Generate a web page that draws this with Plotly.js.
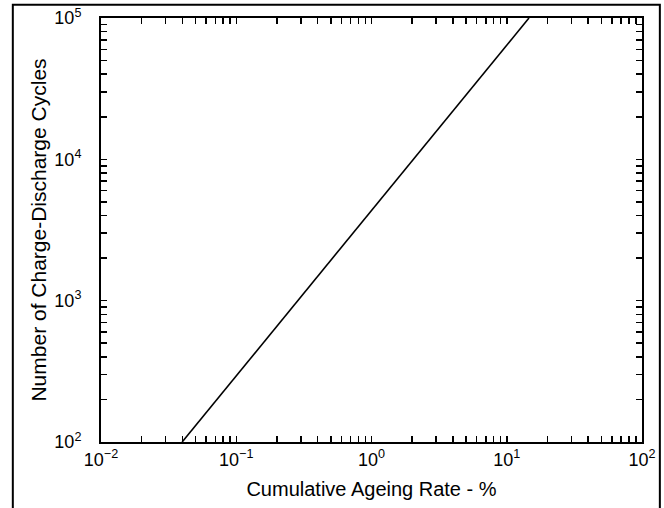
<!DOCTYPE html>
<html>
<head>
<meta charset="utf-8">
<script src="https://cdn.plot.ly/plotly-3.0.1.min.js"></script>
<style>html,body{margin:0;padding:0;background:#fff;}#chart{width:664px;height:508px;}</style>
</head>
<body>
<div id="chart"></div>
<script>
// Data
const ageingRate = [0.0398, 14.6];      // Cumulative Ageing Rate - %
const cycles = [100, 100000];           // Number of Charge-Discharge Cycles
const xDecades = [-2, -1, 0, 1, 2];
const yDecades = [2, 3, 4, 5];
const xTitle = 'Cumulative Ageing Rate - %';
const yTitle = 'Number of Charge-Discharge Cycles';

function buildTicks(decades) {
  const vals = [], text = [];
  for (let i = 0; i < decades.length; i++) {
    const d = decades[i];
    vals.push(Math.pow(10, d));
    text.push('10<sup>' + (d < 0 ? '\u2212' + (-d) : d) + '</sup>');
    if (i < decades.length - 1) {
      for (let m = 2; m <= 9; m++) { vals.push(m * Math.pow(10, d)); text.push(''); }
    }
  }
  return {vals, text};
}
const xt = buildTicks(xDecades);
const yt = buildTicks(yDecades);

const font = {family: 'Liberation Sans, Arial, sans-serif', color: '#000'};

Plotly.newPlot('chart', [{
  x: ageingRate, y: cycles, type: 'scatter', mode: 'lines',
  line: {color: '#000', width: 1.6}, hoverinfo: 'skip'
}], {
  width: 664, height: 508,
  margin: {l: 101, r: 22, t: 18, b: 66},
  paper_bgcolor: '#fff', plot_bgcolor: '#fff',
  showlegend: false,
  font: font,
  xaxis: {
    type: 'log', range: [-2, 2],
    tickvals: xt.vals, ticktext: xt.text,
    ticks: 'inside', ticklen: 6, tickwidth: 1.5, tickcolor: '#000',
    showgrid: false, zeroline: false,
    showline: true, linecolor: '#000', linewidth: 2, mirror: 'ticks',
    tickfont: {family: font.family, size: 18, color: '#000'},
    title: {text: xTitle, font: {family: font.family, size: 20, color: '#000'}, standoff: 13}
  },
  yaxis: {
    type: 'log', range: [2, 5],
    tickvals: yt.vals, ticktext: yt.text,
    ticks: 'inside', ticklen: 6, tickwidth: 1.5, tickcolor: '#000',
    showgrid: false, zeroline: false,
    showline: true, linecolor: '#000', linewidth: 2, mirror: 'ticks',
    tickfont: {family: font.family, size: 18, color: '#000'},
    ticklabelstandoff: 14,
    title: {text: yTitle, font: {family: font.family, size: 21, color: '#000'}, standoff: 2}
  },
  shapes: [{
    type: 'rect', xref: 'paper', yref: 'paper',
    x0: -0.163, x1: 1.033, y0: -0.25, y1: 1.031,
    line: {color: '#000', width: 2}, layer: 'below'
  }]
}, {staticPlot: true, displayModeBar: false});
</script>
</body>
</html>
